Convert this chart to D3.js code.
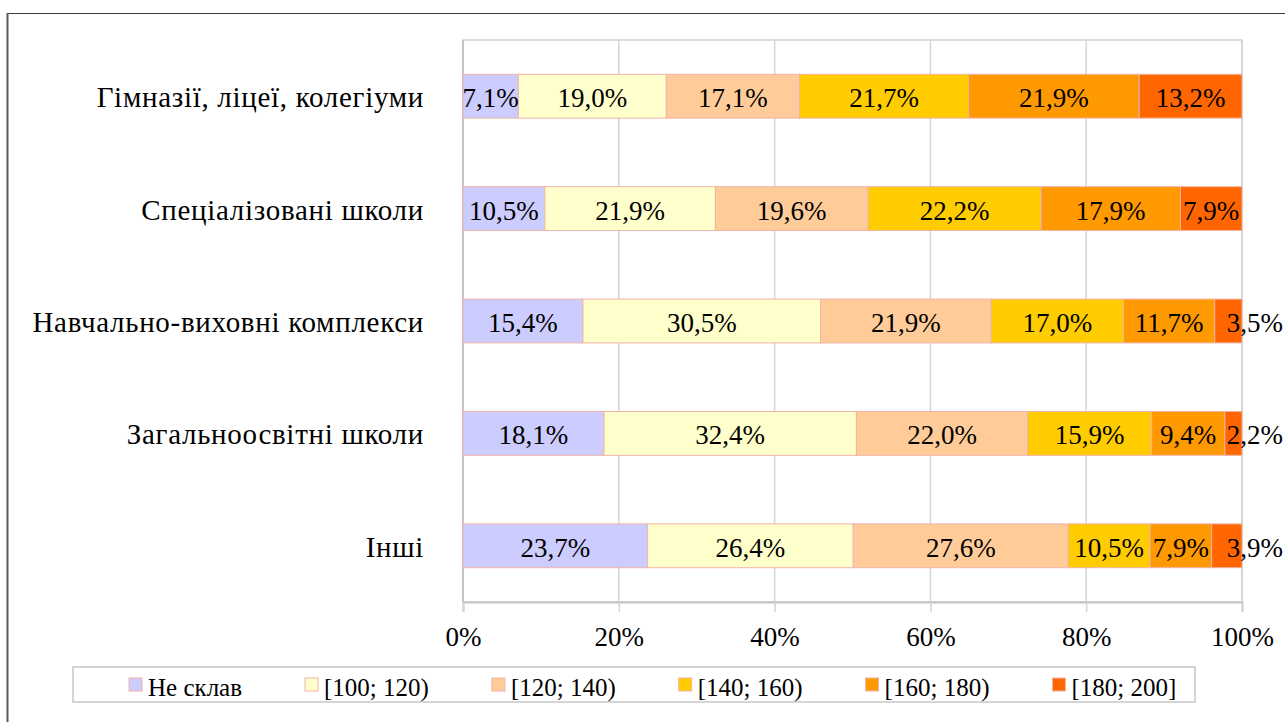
<!DOCTYPE html>
<html>
<head>
<meta charset="utf-8">
<script src="https://cdn.jsdelivr.net/npm/d3@7"></script>
<style>
  html, body { margin: 0; padding: 0; background: #fff; }
  svg { display: block; }
  svg text { font-family: "Liberation Serif", "Times New Roman", serif; }
</style>
</head>
<body>
<svg id="chart" width="1285" height="722"></svg>
<script>
// School types (top to bottom)
const categories = [
  "Гімназії, ліцеї, колегіуми",
  "Спеціалізовані школи",
  "Навчально-виховні комплекси",
  "Загальноосвітні школи",
  "Інші"
];

// Score ranges (series)
const seriesNames = ["Не склав", "[100; 120)", "[120; 140)", "[140; 160)", "[160; 180)", "[180; 200]"];
const seriesColors = ["#ccccff", "#ffffcc", "#ffcc99", "#ffcc00", "#ff9900", "#ff6600"];

// Share of pupils per range, % (one array per range, in category order)
const neSklav = [7.1, 10.5, 15.4, 18.1, 23.7];
const r100_120 = [19.0, 21.9, 30.5, 32.4, 26.4];
const r120_140 = [17.1, 19.6, 21.9, 22.0, 27.6];
const r140_160 = [21.7, 22.2, 17.0, 15.9, 10.5];
const r160_180 = [21.9, 17.9, 11.7, 9.4, 7.9];
const r180_200 = [13.2, 7.9, 3.5, 2.2, 3.9];

const xTicks = [0, 20, 40, 60, 80, 100];

const seriesValues = [neSklav, r100_120, r120_140, r140_160, r160_180, r180_200];

const table = categories.map((c, i) => {
  const row = { category: c };
  seriesNames.forEach((s, j) => { row[s] = seriesValues[j][i]; });
  return row;
});

const W = 1285;
const svg = d3.select("#chart");

const plot = { left: 463, right: 1242, top: 40, bottom: 602 };

const x = d3.scaleLinear().domain([0, 100]).range([plot.left, plot.right]);
const y = d3.scaleBand().domain(categories).range([plot.top, plot.bottom])
  .paddingInner(0.61).paddingOuter(0.305);

// Outer frame (top and left edges)
svg.append("line").attr("x1", 7).attr("x2", W).attr("y1", 13.5).attr("y2", 13.5)
  .attr("stroke", "#3c3c3c").attr("stroke-width", 1.2);
svg.append("line").attr("x1", 7.5).attr("x2", 7.5).attr("y1", 13).attr("y2", 722)
  .attr("stroke", "#5a5a5a").attr("stroke-width", 2);

// Plot area border
svg.append("rect")
  .attr("x", plot.left).attr("y", plot.top)
  .attr("width", plot.right - plot.left).attr("height", plot.bottom - plot.top)
  .attr("fill", "none").attr("stroke", "#cfcfcf").attr("stroke-width", 1.5);

// Vertical gridlines
svg.append("g").selectAll("line").data(xTicks).join("line")
  .attr("x1", d => x(d)).attr("x2", d => x(d))
  .attr("y1", plot.top).attr("y2", plot.bottom)
  .attr("stroke", "#d4d4d4").attr("stroke-width", 1.5);

// X axis
const xAxis = svg.append("g")
  .attr("transform", `translate(0,${plot.bottom})`)
  .call(d3.axisBottom(x).tickValues(xTicks).tickFormat(d => d + "%").tickSize(10).tickPadding(15));
xAxis.attr("font-size", 27);
xAxis.select(".domain").attr("stroke", "#c4c4c4").attr("stroke-width", 2);
xAxis.selectAll(".tick line").attr("stroke", "#d4d4d4").attr("stroke-width", 1.5);
xAxis.selectAll(".tick text").attr("fill", "#000");

// Y axis line
svg.append("line").attr("x1", plot.left).attr("x2", plot.left)
  .attr("y1", plot.top).attr("y2", plot.bottom)
  .attr("stroke", "#c4c4c4").attr("stroke-width", 2);

// Category labels
svg.append("g").selectAll("text").data(categories).join("text")
  .attr("x", plot.left - 39)
  .attr("y", d => y(d) + y.bandwidth() / 2 + 1)
  .attr("text-anchor", "end")
  .attr("dominant-baseline", "central")
  .attr("font-size", 29)
  .attr("letter-spacing", 0.7)
  .attr("fill", "#000")
  .text(d => d);

// Stacked bars
const stacked = d3.stack().keys(seriesNames)(table);

const layers = svg.append("g").selectAll("g").data(stacked).join("g")
  .attr("fill", (d, i) => seriesColors[i]);

layers.selectAll("rect").data(d => d).join("rect")
  .attr("x", d => x(d[0]))
  .attr("y", d => y(d.data.category))
  .attr("width", d => x(d[1]) - x(d[0]))
  .attr("height", y.bandwidth())
  .attr("stroke", "#f0b4a8")
  .attr("stroke-width", 1);

// Value labels, centred on each segment
const lastKey = seriesNames[seriesNames.length - 1];
const labels = svg.append("g").selectAll("g").data(stacked).join("g")
  .selectAll("text").data(d => d.map(p => Object.assign(p, { key: d.key }))).join("text")
  .attr("x", d => (x(d[0]) + x(d[1])) / 2)
  .attr("y", d => y(d.data.category) + y.bandwidth() / 2 + 2)
  .attr("text-anchor", "middle")
  .attr("dominant-baseline", "central")
  .attr("font-size", 27)
  .attr("fill", "#000")
  .text(d => d3.format(".1f")(d[1] - d[0]).replace(".", ",") + "%");

// A label too wide for a narrow end segment is pushed out to the chart's right edge
labels.each(function(d) {
  const w = this.getComputedTextLength();
  const segW = x(d[1]) - x(d[0]);
  if (d.key === lastKey && w > segW) {
    d3.select(this).attr("x", W - 2 - w / 2);
  }
});

// Legend
const legendBox = { x: 73, y: 667, w: 1122, h: 35 };
svg.append("rect")
  .attr("x", legendBox.x).attr("y", legendBox.y)
  .attr("width", legendBox.w).attr("height", legendBox.h)
  .attr("fill", "#fff").attr("stroke", "#c8c8c8").attr("stroke-width", 1.5);

const legend = svg.append("g");
let lx = 129;
const ly = legendBox.y + legendBox.h / 2;
seriesNames.forEach((name, i) => {
  const item = legend.append("g");
  item.append("rect")
    .attr("x", lx).attr("y", ly - 6.5)
    .attr("width", 13).attr("height", 13)
    .attr("fill", seriesColors[i])
    .attr("stroke", "#f0b4a8").attr("stroke-width", 1);
  const t = item.append("text")
    .attr("x", lx + 19).attr("y", ly + 3)
    .attr("dominant-baseline", "central")
    .attr("font-size", 25)
    .attr("fill", "#000")
    .text(name);
  lx += 19 + t.node().getComputedTextLength() + 63;
});
</script>
</body>
</html>
